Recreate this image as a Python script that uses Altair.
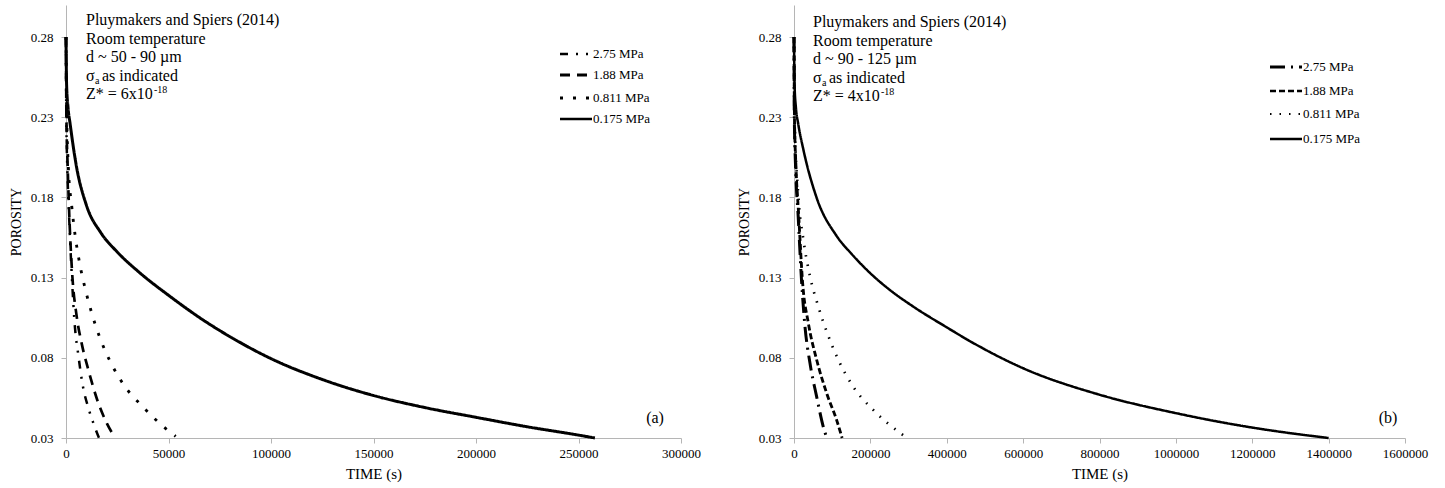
import altair as alt
import pandas as pd

LABELS = ["2.75 MPa", "1.88 MPa", "0.811 MPa", "0.175 MPa"]

# ---- panel (a): d ~ 50-90 um ----
A_T_275 = [0, 150, 600, 1300, 2760, 4390, 6000, 7970, 11220, 14000, 16100]
A_P_275 = [0.28, 0.23, 0.20, 0.175, 0.133, 0.0986, 0.0819, 0.0642, 0.0475, 0.037, 0.030]
A_T_188 = [0, 200, 800, 1630, 3090, 5200, 7640, 10900, 15800, 20000, 24000]
A_P_188 = [0.28, 0.23, 0.20, 0.168, 0.131, 0.106, 0.089, 0.0725, 0.0517, 0.039, 0.030]
A_T_0811 = [0, 250, 1140, 2760, 4390, 6500, 9270, 12520, 16590, 21950, 28780, 37400, 46680, 53500]
A_P_0811 = [0.28, 0.24, 0.199, 0.175, 0.157, 0.140, 0.1236, 0.108, 0.0923, 0.0767, 0.062, 0.0496, 0.038, 0.031]
A_T_0175 = [0, 300, 1000, 2000, 5000, 10000, 17000, 25000, 36000, 50000, 67000, 85000,
            100000, 125000, 150000, 175000, 200000, 225000, 250000, 258000]
A_P_0175 = [0.28, 0.25, 0.236, 0.226, 0.200, 0.175, 0.158, 0.146, 0.133, 0.119, 0.1035, 0.0895,
            0.0795, 0.0665, 0.0565, 0.049, 0.0429, 0.037, 0.0318, 0.030]

# ---- panel (b): d ~ 90-125 um ----
B_T_275 = [0, 800, 4000, 11000, 20100, 28750, 41800, 59300, 76700, 86000]
B_P_275 = [0.28, 0.23, 0.20, 0.168, 0.1267, 0.0996, 0.0767, 0.0558, 0.037, 0.030]
B_T_188 = [0, 1200, 5000, 12000, 22600, 37500, 59300, 85400, 111500, 126000]
B_P_188 = [0.28, 0.23, 0.20, 0.17, 0.1267, 0.1017, 0.0788, 0.058, 0.0413, 0.030]
B_T_0811 = [0, 1500, 11300, 24400, 41800, 63600, 87100, 115900, 155100, 207400, 246600, 290200]
B_P_0811 = [0.28, 0.23, 0.181, 0.154, 0.131, 0.112, 0.0954, 0.0788, 0.062, 0.0475, 0.039, 0.031]
B_T_0175 = [0, 1500, 5000, 11000, 24400, 59000, 111600, 150000, 198700, 250000, 311900,
            400000, 460000, 600000, 800000, 1000000, 1200000, 1300000, 1400000]
B_P_0175 = [0.28, 0.25, 0.236, 0.226, 0.21, 0.18, 0.156, 0.145, 0.133, 0.1225, 0.112,
            0.099, 0.0905, 0.0735, 0.057, 0.0455, 0.0365, 0.033, 0.030]

Y_TICKS = [0.03, 0.08, 0.13, 0.18, 0.23, 0.28]

NOTES_A = ["Pluymakers and Spiers (2014)", "Room temperature", "d ~ 50 - 90 \u00b5m"]
NOTES_B = ["Pluymakers and Spiers (2014)", "Room temperature", "d ~ 90 - 125 \u00b5m"]

FONT = "Liberation Serif"
W_A, W_B, H = 615, 611, 433


def text_at(txt, x, y, size=16, baseline="middle", align="left"):
    return alt.Chart(alt.Data(values=[{}])).mark_text(
        text=txt, font=FONT, fontSize=size, color="black",
        align=align, baseline=baseline,
    ).encode(x=alt.value(x), y=alt.value(y))


def key_line(x0, x1, y, dash, width):
    return alt.Chart(alt.Data(values=[{}])).mark_rule(
        color="black", strokeDash=dash, strokeWidth=width,
    ).encode(x=alt.value(x0), x2=alt.value(x1), y=alt.value(y))


def panel(series, xmax, xstep, width, dashes, widths, key_x, key_rows,
          notes, zexp, tag, tag_x, note_x, note_y0):
    rows = []
    for label, (ts, ps) in zip(LABELS, series):
        for i, (t, p) in enumerate(zip(ts, ps)):
            rows.append({"series": label, "time": t, "porosity": p, "i": i})
    df = pd.DataFrame(rows)

    lines = alt.Chart(df).mark_line(color="black", interpolate="monotone").encode(
        x=alt.X("time:Q",
                scale=alt.Scale(domain=[0, xmax], nice=False),
                axis=alt.Axis(values=list(range(0, xmax + 1, xstep)), format="d",
                              title="TIME (s)", labelFlush=False)),
        y=alt.Y("porosity:Q",
                scale=alt.Scale(domain=[0.03, 0.30], nice=False, zero=False),
                axis=alt.Axis(values=Y_TICKS, format=".2f", title="POROSITY")),
        strokeDash=alt.StrokeDash("series:N",
                                  scale=alt.Scale(domain=LABELS, range=dashes),
                                  legend=None),
        strokeWidth=alt.StrokeWidth("series:O",
                                    scale=alt.Scale(domain=LABELS, range=widths),
                                    legend=None),
        order="i:Q",
    )

    layers = [lines]

    # key: one short line sample and its label per series
    for label, dash, w, ky in zip(LABELS, dashes, widths, key_rows):
        layers.append(key_line(key_x, key_x + 32, ky, dash, w))
        layers.append(text_at(label, key_x + 33, ky, size=13))

    ls = 18.6
    for k, line in enumerate(notes):
        layers.append(text_at(line, note_x, note_y0 + k * ls))
    y3 = note_y0 + 3 * ls
    layers.append(text_at("\u03c3", note_x, y3))
    layers.append(text_at("a", note_x + 9, y3 + 5, size=10))
    layers.append(text_at("as indicated", note_x + 16, y3))
    y4 = note_y0 + 4 * ls
    layers.append(text_at("Z* = " + zexp[0] + "x10", note_x, y4))
    layers.append(text_at(zexp[1], note_x + 68, y4 - 4, size=10))
    layers.append(text_at(tag, tag_x, 413, size=16, align="center"))

    return alt.layer(*layers).properties(width=width, height=H)


left = panel(
    [(A_T_275, A_P_275), (A_T_188, A_P_188), (A_T_0811, A_P_0811), (A_T_0175, A_P_0175)],
    300000, 50000, W_A,
    [[8, 8, 2, 8, 2, 8], [10, 7], [3, 10], [1, 0]],
    [2.5, 3, 3, 2.5],
    494, [49, 70, 93, 114],
    NOTES_A, ("6", "-18"), "(a)", 589, 20, 15,
)

right = panel(
    [(B_T_275, B_P_275), (B_T_188, B_P_188), (B_T_0811, B_P_0811), (B_T_0175, B_P_0175)],
    1600000, 200000, W_B,
    [[15, 6, 2, 6], [6, 3], [1.5, 8], [1, 0]],
    [3, 2.5, 2, 2.5],
    476, [62, 86, 109, 134],
    NOTES_B, ("4", "-18"), "(b)", 594, 19, 17,
)

chart = alt.hconcat(left, right, spacing=113, bounds="flush").resolve_scale(
    strokeDash="independent", strokeWidth="independent", x="independent"
).configure(
    padding={"left": 9, "top": 5, "right": 5, "bottom": 5},
    background="white",
).configure_view(stroke=None).configure_axis(
    grid=False, domainColor="#b5b5b5", tickColor="#b5b5b5", tickSize=5,
    labelFont=FONT, labelFontSize=13, labelColor="black", labelPadding=8,
    titleFont=FONT, titleFontSize=14, titleFontWeight="normal", titleColor="black",
).configure_axisX(titleFontSize=15, labelPadding=4, titlePadding=6).configure_axisY(
    titlePadding=7
)

chart.save("out.html", embed_options={"renderer": "svg", "actions": False})
